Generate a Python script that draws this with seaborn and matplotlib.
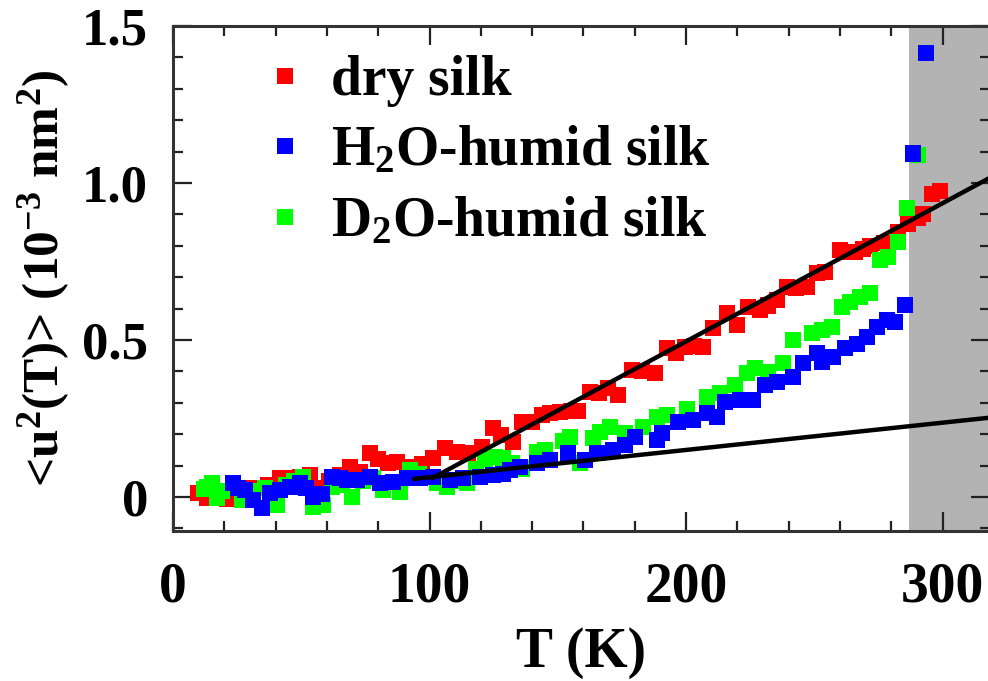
import numpy as np
import pandas as pd
import matplotlib
matplotlib.use("Agg")
import matplotlib.pyplot as plt
import seaborn as sns
from matplotlib.ticker import MultipleLocator

# ---------------- data ----------------
dry_T = [9.9, 13.1, 21, 26, 30.7, 37.2, 41.7, 45.5, 49.5, 53.4, 57, 61, 65, 69, 73,
         76.8, 80, 84, 87.2, 92.4, 97, 101.5, 106, 110.6, 115, 120.3, 124.9, 128,
         132.6, 136, 139.8, 144, 147, 151, 155, 158, 162.6, 166, 169.6, 173.5, 178.8,
         183, 188, 192.5, 196, 199.6, 203, 206.7, 210.5, 215.9, 219.7, 224.2, 228.8,
         232, 235.4, 239.3, 243, 247, 251, 254.2, 260, 263, 265.9, 269, 271.7, 277,
         282.8, 286.5, 290.5, 292.5, 296, 299]
dry_u = [0.012, -0.004, -0.005, 0.01, 0.028, 0.038, 0.06, 0.062, 0.065, 0.07, 0.03, 0.05,
         0.07, 0.097, 0.08, 0.139, 0.12, 0.107, 0.112, 0.097, 0.105, 0.123, 0.155, 0.144,
         0.14, 0.16, 0.219, 0.197, 0.175, 0.24, 0.24, 0.26, 0.267, 0.27, 0.275, 0.275,
         0.335, 0.33, 0.347, 0.325, 0.404, 0.40, 0.395, 0.474, 0.46, 0.479, 0.48, 0.479,
         0.538, 0.585, 0.548, 0.606, 0.595, 0.61, 0.627, 0.670, 0.665, 0.67, 0.713, 0.718,
         0.787, 0.78, 0.78, 0.79, 0.80, 0.81, 0.845, 0.87, 0.89, 0.90, 0.965, 0.975]

h2o_T = [23.5, 25.5, 28, 31.3, 34.6, 37.8, 41.7, 45.6, 49.5, 52, 54.7, 58, 61.9, 65,
         67.7, 71.6, 76.8, 80.7, 85.9, 91.1, 96.3, 101.5, 108, 113.2, 119.7, 124.9,
         128.8, 131.4, 135.3, 141.8, 147, 154.1, 160.6, 165.2, 171.7, 176.2, 180.1,
         188.6, 190.5, 197, 202.9, 208, 212, 215.2, 221, 226, 230.8, 235.4, 241.8,
         245.7, 251, 252.9, 257.4, 262, 266.5, 270.4, 274.3, 278.2, 281.5, 285.4,
         288.6, 293.6]
h2o_u = [0.045, 0.03, 0.022, -0.01, -0.036, 0.012, 0.022, 0.033, 0.044, 0.03, 0.001, 0.01,
         0.065, 0.06, 0.054, 0.054, 0.065, 0.044, 0.049, 0.06, 0.06, 0.065, 0.054, 0.06,
         0.065, 0.07, 0.075, 0.086, 0.097, 0.107, 0.118, 0.139, 0.118, 0.139, 0.15, 0.166,
         0.192, 0.182, 0.203, 0.24, 0.245, 0.267, 0.256, 0.303, 0.309, 0.309, 0.357, 0.367,
         0.383, 0.426, 0.458, 0.431, 0.447, 0.474, 0.489, 0.51, 0.542, 0.564, 0.558, 0.611,
         1.094, 1.413]

d2o_T = [12, 13.1, 15.1, 17, 19, 26.8, 31, 35.9, 40.4, 44, 47, 50.8, 54.7, 58.6, 61.9,
         66, 69.7, 74, 78, 82, 88.5, 92.4, 96, 102.8, 106.7, 110, 114.5, 118, 121.6,
         125.5, 128.8, 132, 136, 141.8, 145, 152.2, 154.8, 158.7, 163.9, 166.5, 170.4,
         176.2, 183.4, 188.6, 192.5, 200.3, 208, 213.3, 219.1, 223.7, 226.9, 232.1,
         237.9, 241.8, 249, 252.9, 256.8, 260.7, 264, 267.8, 271.7, 275.6, 278.9,
         282.8, 286, 290.6]
d2o_u = [0.025, 0.033, 0.044, -0.004, 0.02, -0.01, 0.02, 0.028, -0.025, 0.04, 0.05, 0.065,
         -0.031, -0.025, 0.033, 0.04, 0.001, 0.05, 0.06, 0.022, 0.017, 0.086, 0.075, 0.044,
         0.033, 0.05, 0.044, 0.09, 0.118, 0.128, 0.124, 0.11, 0.091, 0.144, 0.15, 0.18,
         0.192, 0.107, 0.187, 0.208, 0.224, 0.203, 0.224, 0.256, 0.261, 0.282, 0.319, 0.33,
         0.357, 0.394, 0.41, 0.399, 0.426, 0.5, 0.521, 0.532, 0.542, 0.606, 0.62, 0.638,
         0.649, 0.755, 0.765, 0.813, 0.919, 1.089]

# fit lines (endpoints)
fit_steep_T = [101, 318.5]
fit_steep_u = [0.06, 1.017]
fit_flat_T = [94, 318.5]
fit_flat_u = [0.058, 0.253]

shade_T = [287, 318.5]

series_names = ["dry silk", "H$_2$O-humid silk", "D$_2$O-humid silk"]
series_colors = ["#ff0000", "#0000ff", "#00ff00"]

x_ticks = [0, 100, 200, 300]
x_ticklabels = ["0", "100", "200", "300"]
y_ticks = [0, 0.5, 1.0, 1.5]
y_ticklabels = ["0", "0.5", "1.0", "1.5"]

# ---------------- figure ----------------
sns.set_theme(style="white")
plt.rcParams["font.family"] = ["Liberation Serif", "DejaVu Serif"]
plt.rcParams["font.weight"] = "bold"
plt.rcParams["text.color"] = "black"
plt.rcParams["axes.labelcolor"] = "black"
plt.rcParams["xtick.color"] = "black"
plt.rcParams["ytick.color"] = "black"
plt.rcParams["mathtext.fontset"] = "custom"
plt.rcParams["mathtext.rm"] = "Liberation Serif:bold"
plt.rcParams["mathtext.bf"] = "Liberation Serif:bold"
plt.rcParams["mathtext.it"] = "Liberation Serif:bold"
plt.rcParams["mathtext.default"] = "rm"

fig = plt.figure(figsize=(9.88, 6.81), dpi=100)
ax = fig.add_axes([173 / 988, 1 - 531 / 681, (990 - 173) / 988, (531 - 26) / 681])

# draw order: red, green, blue (blue on top)
df = pd.concat([
    pd.DataFrame({"T": dry_T, "u": dry_u, "sample": series_names[0]}),
    pd.DataFrame({"T": d2o_T, "u": d2o_u, "sample": series_names[2]}),
    pd.DataFrame({"T": h2o_T, "u": h2o_u, "sample": series_names[1]}),
], ignore_index=True)

ax.axvspan(shade_T[0], shade_T[1], color="#b3b3b3", zorder=0, lw=0)

sns.scatterplot(data=df, x="T", y="u", hue="sample", hue_order=series_names,
                palette=dict(zip(series_names, series_colors)), marker="s", s=133,
                edgecolor="none", linewidth=0, ax=ax, zorder=3)

sns.lineplot(x=fit_steep_T, y=fit_steep_u, color="black", lw=3.2, ax=ax, zorder=4,
             legend=False)
sns.lineplot(x=fit_flat_T, y=fit_flat_u, color="black", lw=3.2, ax=ax, zorder=4,
             legend=False)

ax.set_xlim(0, 318.5)
ax.set_ylim(-0.108, 1.5)

ax.set_xticks(x_ticks)
ax.set_xticklabels(x_ticklabels, fontsize=40, fontweight="bold", color="black")
ax.set_yticks(y_ticks)
ax.set_yticklabels(y_ticklabels, fontsize=38, fontweight="bold", color="black")
ax.xaxis.set_minor_locator(MultipleLocator(20))
ax.yaxis.set_minor_locator(MultipleLocator(0.1))

ax.tick_params(which="both", direction="in", top=True, right=True, bottom=True,
               left=True, color="#222222", width=1.6)
ax.tick_params(which="major", length=13.5)
ax.tick_params(which="minor", length=7.5)
ax.tick_params(axis="x", which="major", pad=22)
ax.tick_params(axis="y", which="major", pad=18)

for sp in ax.spines.values():
    sp.set_color("#333333")
    sp.set_linewidth(2.2)

ax.set_xlabel("T (K)", fontsize=40, fontweight="bold", labelpad=10, color="black")
ax.set_ylabel("<u$^2$(T)> (10$^{-3}$ nm$^2$)", fontsize=37, fontweight="bold",
              labelpad=7, color="black")

handles, labels = ax.get_legend_handles_labels()
leg = ax.legend(handles, labels, loc="upper left", bbox_to_anchor=(0.103, 0.942),
                frameon=False, fontsize=40, borderpad=0, borderaxespad=0,
                handlelength=1.0, handletextpad=0.33, labelspacing=0.33,
                markerscale=1.0)
for t in leg.get_texts():
    t.set_fontweight("bold")
    t.set_color("black")

fig.savefig("out.png", dpi=100)
